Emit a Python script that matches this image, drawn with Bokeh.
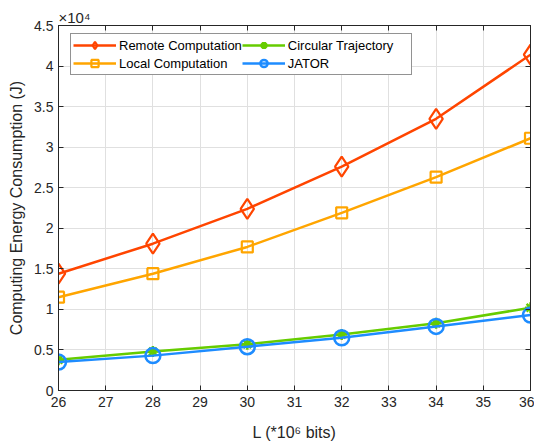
from bokeh.plotting import figure
from bokeh.models import Legend, LegendItem, LinearAxis, FixedTicker, Range1d
from bokeh.embed import file_html
from bokeh.resources import INLINE

L_bits = [26, 28, 30, 32, 34, 36]
remote = [14400, 18100, 22400, 27600, 33500, 41400]
local = [11500, 14400, 17700, 21900, 26300, 31100]
circular = [3800, 4800, 5700, 6900, 8300, 10200]
jator = [3500, 4300, 5400, 6500, 7900, 9300]

x_ticks = list(range(26, 37))
y_ticks = [0, 0.5, 1, 1.5, 2, 2.5, 3, 3.5, 4, 4.5]
scale = 1e4

FONT = "Liberation Sans"

p = figure(frame_width=472, frame_height=365, output_backend="svg", toolbar_location=None,
           x_range=Range1d(26, 36), y_range=Range1d(0, 4.5),
           min_border_left=58, min_border_right=4, min_border_top=25, min_border_bottom=54,
           title="×10⁴")
p.title.text_font = FONT
p.title.text_font_size = "15px"
p.title.text_font_style = "normal"
p.title.text_color = "#262626"
p.title.align = "left"
p.title.standoff = 0

p.xaxis.ticker = FixedTicker(ticks=x_ticks)
p.yaxis.ticker = FixedTicker(ticks=y_ticks)
p.xgrid.ticker = FixedTicker(ticks=x_ticks)
p.ygrid.ticker = FixedTicker(ticks=y_ticks)
p.grid.grid_line_color = "#e0e0e0"
p.grid.grid_line_width = 1
p.outline_line_color = "#262626"
p.outline_line_width = 1

for ax in [p.xaxis[0], p.yaxis[0]]:
    ax.major_tick_in = 5
    ax.major_tick_out = 0
    ax.minor_tick_line_color = None
    ax.axis_line_color = "#262626"
    ax.major_tick_line_color = "#262626"
    ax.major_label_text_font = FONT
    ax.major_label_text_font_size = "14px"
    ax.major_label_text_color = "#262626"
    ax.axis_label_text_font = FONT
    ax.axis_label_text_font_size = "16px"
    ax.axis_label_text_font_style = "normal"
    ax.axis_label_text_color = "#262626"

p.xaxis.axis_label = "L (*10⁶ bits)"
p.yaxis.axis_label = "Computing Energy Consumption (J)"
p.xaxis.major_label_standoff = 6
p.yaxis.major_label_standoff = 5
p.yaxis.axis_label_standoff = 6
p.xaxis.axis_label_standoff = 14

for loc in ["right", "above"]:
    ax = LinearAxis(ticker=FixedTicker(ticks=y_ticks if loc == "right" else x_ticks))
    ax.major_tick_in = 5
    ax.major_tick_out = 0
    ax.minor_tick_line_color = None
    ax.major_label_text_font_size = "0px"
    ax.major_label_text_alpha = 0
    ax.axis_line_color = "#262626"
    ax.major_tick_line_color = "#262626"
    ax.major_label_standoff = 0
    p.add_layout(ax, loc)

ys = {
    "remote": [v / scale for v in remote],
    "local": [v / scale for v in local],
    "circular": [v / scale for v in circular],
    "jator": [v / scale for v in jator],
}

c_remote = "#FF4500"
c_local = "#FFA500"
c_circ = "#66CC00"
c_jator = "#1E8CFF"
lw = 2.5

l1 = p.line(L_bits, ys["remote"], line_color=c_remote, line_width=lw)
m1 = p.scatter(L_bits, ys["remote"], marker="diamond", size=20, fill_color=None,
               line_color=c_remote, line_width=2.2)
l2 = p.line(L_bits, ys["local"], line_color=c_local, line_width=lw)
m2 = p.scatter(L_bits, ys["local"], marker="square", size=11, fill_color=None,
               line_color=c_local, line_width=2.2)
l3 = p.line(L_bits, ys["circular"], line_color=c_circ, line_width=lw)
m3 = p.scatter(L_bits, ys["circular"], marker="asterisk", size=11,
               line_color=c_circ, line_width=2.5)
l4 = p.line(L_bits, ys["jator"], line_color=c_jator, line_width=lw)
m4 = p.scatter(L_bits, ys["jator"], marker="circle", size=15, fill_color=None,
               line_color=c_jator, line_width=2.5)

legend = Legend(items=[
    LegendItem(label="Remote Computation", renderers=[l1, m1]),
    LegendItem(label="Local Computation", renderers=[l2, m2]),
    LegendItem(label="Circular Trajectory", renderers=[l3, m3]),
    LegendItem(label="JATOR", renderers=[l4, m4]),
], location=(12, 315), ncols=2)
legend.label_text_font = FONT
legend.label_text_font_size = "13px"
legend.label_text_color = "#000000"
legend.border_line_color = "#262626"
legend.border_line_width = 1
legend.background_fill_alpha = 1
legend.glyph_width = 43
legend.glyph_height = 18
legend.label_height = 18
legend.label_width = 121
legend.label_standoff = 3
legend.spacing = 0
legend.padding = 2
legend.margin = 0
legend.item_background_fill_alpha = 0
p.add_layout(legend, "center")

open("out.html", "w").write(file_html(p, INLINE))
